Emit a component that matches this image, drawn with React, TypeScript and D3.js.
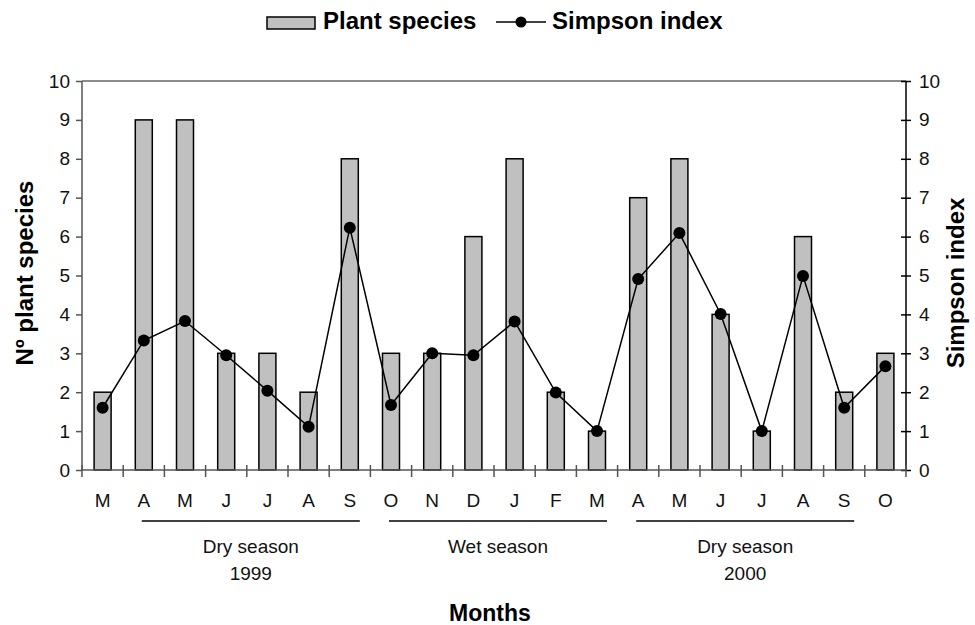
import React, { useEffect, useRef } from "react";
import * as d3 from "d3";

const months = ["M", "A", "M", "J", "J", "A", "S", "O", "N", "D", "J", "F", "M", "A", "M", "J", "J", "A", "S", "O"];
const plantSpecies = [2, 9, 9, 3, 3, 2, 8, 3, 3, 6, 8, 2, 1, 7, 8, 4, 1, 6, 2, 3];
const simpsonIndex = [1.6, 3.33, 3.83, 2.95, 2.04, 1.11, 6.23, 1.67, 3.0, 2.95, 3.82, 1.99, 1.0, 4.91, 6.09, 4.01, 1.0, 4.99, 1.6, 2.67];
const yTicks = [0, 1, 2, 3, 4, 5, 6, 7, 8, 9, 10];
// season brackets: first and last month index, label lines
const seasons = [
  { from: 1, to: 6, lines: ["Dry season", "1999"] },
  { from: 7, to: 12, lines: ["Wet season"] },
  { from: 13, to: 18, lines: ["Dry season", "2000"] },
];

const W = 975;
const H = 625;

const App = () => {
  const ref = useRef<SVGSVGElement>(null);

  useEffect(() => {
    const svg = d3.select(ref.current);
    svg.selectAll("*").remove();

    const left = 82;
    const right = 906;
    const top = 81;
    const bottom = 470;
    const font = "'Liberation Sans', Arial, sans-serif";

    const band = d3.scaleBand<number>().domain(d3.range(months.length)).range([left, right]);
    const y = d3.scaleLinear().domain([0, 10]).range([bottom, top]);
    const y2 = d3.scaleLinear().domain([0, 10]).range([bottom, top]);
    const cx = (i: number) => band(i)! + band.bandwidth() / 2;

    // top border
    svg.append("line")
      .attr("x1", left).attr("x2", right)
      .attr("y1", top).attr("y2", top)
      .attr("stroke", "#666").attr("stroke-width", 1.5);

    // bars
    svg.append("g")
      .selectAll("rect")
      .data(plantSpecies)
      .join("rect")
      .attr("x", (_, i) => cx(i) - 8.5)
      .attr("width", 17)
      .attr("y", (d) => y(d))
      .attr("height", (d) => bottom - y(d))
      .attr("fill", "#c0c0c0")
      .attr("stroke", "#000")
      .attr("stroke-width", 1.5);

    // left axis
    const gl = svg.append("g").attr("transform", `translate(${left},0)`);
    gl.call(d3.axisLeft(y).tickValues(yTicks).tickSize(6).tickPadding(6));
    gl.selectAll("path,line").attr("stroke", "#555").attr("stroke-width", 1.5);
    gl.select(".domain").attr("d", `M0,${top}V${bottom}`);
    gl.selectAll("text").attr("font-family", font).attr("font-size", 19).attr("fill", "#111");

    // right axis (ticks cross the line)
    const gr = svg.append("g").attr("transform", `translate(${right},0)`);
    gr.call(d3.axisRight(y2).tickValues(yTicks).tickSize(5).tickPadding(8));
    gr.selectAll(".tick line").attr("x1", -5);
    gr.selectAll("path,line").attr("stroke", "#000").attr("stroke-width", 1.5);
    gr.select(".domain").attr("d", `M0,${top}V${bottom}`);
    gr.selectAll("text").attr("font-family", font).attr("font-size", 19).attr("fill", "#111");

    // bottom axis
    const gb = svg.append("g").attr("transform", `translate(0,${bottom})`);
    gb.append("line")
      .attr("x1", left).attr("x2", right)
      .attr("stroke", "#555").attr("stroke-width", 1.5);
    gb.selectAll("line.tk")
      .data(d3.range(months.length + 1))
      .join("line")
      .attr("class", "tk")
      .attr("x1", (i) => left + i * band.step())
      .attr("x2", (i) => left + i * band.step())
      .attr("y1", -5)
      .attr("y2", 7)
      .attr("stroke", "#555")
      .attr("stroke-width", 1.5);
    gb.selectAll("text")
      .data(months)
      .join("text")
      .attr("x", (_, i) => cx(i))
      .attr("y", 37)
      .attr("text-anchor", "middle")
      .attr("font-family", font)
      .attr("font-size", 19)
      .attr("fill", "#111")
      .text((d) => d);

    // simpson line
    svg.append("path")
      .datum(simpsonIndex)
      .attr("d", d3.line<number>().x((_, i) => cx(i)).y((d) => y2(d)))
      .attr("fill", "none")
      .attr("stroke", "#000")
      .attr("stroke-width", 1.5);
    svg.append("g")
      .selectAll("circle")
      .data(simpsonIndex)
      .join("circle")
      .attr("cx", (_, i) => cx(i))
      .attr("cy", (d) => y2(d))
      .attr("r", 6)
      .attr("fill", "#000");

    // season brackets
    const sg = svg.append("g");
    seasons.forEach((s) => {
      const x1 = cx(s.from) - 2;
      const x2 = cx(s.to) + 10;
      sg.append("line")
        .attr("x1", x1).attr("x2", x2)
        .attr("y1", 521).attr("y2", 521)
        .attr("stroke", "#000").attr("stroke-width", 1.5);
      s.lines.forEach((t, k) => {
        sg.append("text")
          .attr("x", (x1 + x2) / 2)
          .attr("y", 553 + k * 27)
          .attr("text-anchor", "middle")
          .attr("font-family", font)
          .attr("font-size", 19)
          .attr("fill", "#111")
          .text(t);
      });
    });

    // axis titles
    svg.append("text")
      .attr("transform", `translate(33,273) rotate(-90)`)
      .attr("text-anchor", "middle")
      .attr("font-family", font)
      .attr("font-weight", "bold")
      .attr("font-size", 24)
      .text("Nº plant species");
    svg.append("text")
      .attr("transform", `translate(964,283) rotate(-90)`)
      .attr("text-anchor", "middle")
      .attr("font-family", font)
      .attr("font-weight", "bold")
      .attr("font-size", 24)
      .text("Simpson index");
    svg.append("text")
      .attr("x", 490)
      .attr("y", 621)
      .attr("text-anchor", "middle")
      .attr("font-family", font)
      .attr("font-weight", "bold")
      .attr("font-size", 23)
      .text("Months");

    // legend
    const lg = svg.append("g");
    lg.append("rect")
      .attr("x", 267).attr("y", 17).attr("width", 48).attr("height", 12)
      .attr("fill", "#c0c0c0").attr("stroke", "#000").attr("stroke-width", 1.5);
    lg.append("text")
      .attr("x", 323).attr("y", 29)
      .attr("font-family", font).attr("font-weight", "bold").attr("font-size", 24)
      .text("Plant species");
    lg.append("line")
      .attr("x1", 496).attr("x2", 546).attr("y1", 22).attr("y2", 22)
      .attr("stroke", "#000").attr("stroke-width", 1.5);
    lg.append("circle").attr("cx", 521).attr("cy", 22).attr("r", 5.5).attr("fill", "#000");
    lg.append("text")
      .attr("x", 552).attr("y", 29)
      .attr("font-family", font).attr("font-weight", "bold").attr("font-size", 24)
      .text("Simpson index");
  }, []);

  return (
    <svg
      ref={ref}
      width={W}
      height={H}
      style={{ position: "absolute", left: 0, top: 0, background: "#fff" }}
    />
  );
};

export default App;
